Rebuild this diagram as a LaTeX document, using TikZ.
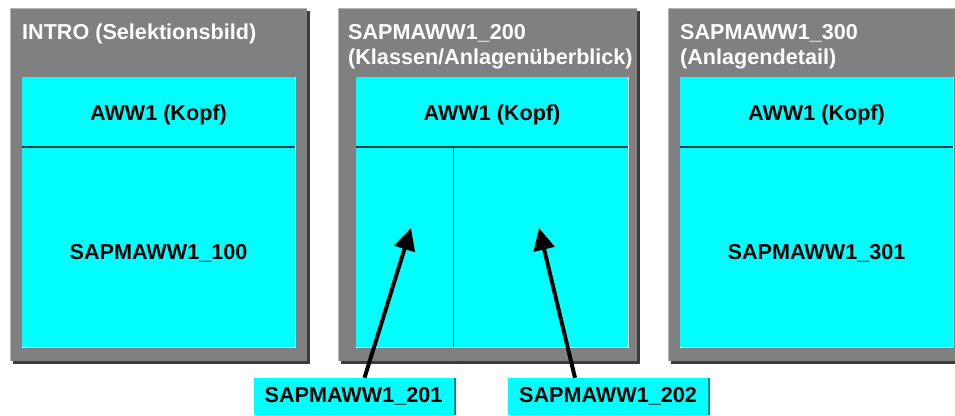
\documentclass[tikz,border=0pt]{standalone}
\usepackage{fontspec}
\setmainfont{Liberation Sans}
\usetikzlibrary{arrows.meta,shadows}

\definecolor{maskgrau}{HTML}{808080}
\definecolor{schatten}{HTML}{3C3C3C}
\definecolor{kante}{HTML}{B4B4B4}
\definecolor{feld}{HTML}{00FFFF}
\definecolor{feldlinie}{HTML}{004848}
\definecolor{feldschatten}{HTML}{008C8C}

\begin{document}
\begin{tikzpicture}[x=1pt,y=-1pt]
\tikzset{every node/.style={inner sep=0pt, font=\fontsize{21.6}{25}\selectfont\bfseries}}
\tikzset{titel/.style={text=white, anchor=base west, align=left}}
\tikzset{feldtext/.style={text=black, anchor=base}}
\tikzset{dynpro/.style={fill=feld, text=black, minimum width=200pt, minimum height=37pt,
  general shadow={fill=feldschatten, shadow xshift=2pt}}}
\tikzset{zeiger/.style={line width=4pt, -{Triangle[length=22pt,width=21pt]}}}
\useasboundingbox (0,0) rectangle (955,415);

% INTRO
\fill [schatten] (13,11) rectangle (310,364);
\fill [maskgrau] (10,8) rectangle (307,361);
\draw [kante] (10,361) |- (307,8);
\fill [feld] (22,77) rectangle (295,347);
\draw [white, line width=0.8pt] (295,77) |- (22,347);
\draw [feldlinie, line width=1.5pt] (22,147) -- (295,147);
\node [titel] (intro) at (22,39) {INTRO (Selektionsbild)};
\node [feldtext] (kopf1) at (158.5,120) {AWW1 (Kopf)};
\node [feldtext] (sub100) at (158.5,259) {SAPMAWW1\_100};

% SAPMAWW1_200
\fill [schatten] (341,11) rectangle (640,364);
\fill [maskgrau] (338,8) rectangle (637,361);
\draw [kante] (338,361) |- (637,8);
\fill [feld] (356,77) rectangle (628,347);
\draw [white, line width=0.8pt] (628,77) |- (356,347);
\draw [feldlinie, line width=1.5pt] (356,147) -- (628,147);
\draw [black, line width=1pt] (453,147) -- (453,347);
\node [titel] (bild200) at (348,64) {SAPMAWW1\_200\\(Klassen/Anlagenüberblick)};
\node [feldtext] (kopf2) at (492,120) {AWW1 (Kopf)};

% SAPMAWW1_300
\fill [schatten] (671,11) rectangle (970,364);
\fill [maskgrau] (668,8) rectangle (967,361);
\draw [kante] (668,361) |- (967,8);
\fill [feld] (680,77) rectangle (953,347);
\draw [white, line width=0.8pt] (953,77) |- (680,347);
\draw [feldlinie, line width=1.5pt] (680,147) -- (953,147);
\node [titel] (bild300) at (680,64) {SAPMAWW1\_300\\(Anlagendetail)};
\node [feldtext] (kopf3) at (816.5,120) {AWW1 (Kopf)};
\node [feldtext] (sub301) at (816.5,259) {SAPMAWW1\_301};

% Subscreens unten
\node [dynpro] (sub201) at (353.5,396.5) {SAPMAWW1\_201};
\node [dynpro] (sub202) at (608,396.5) {SAPMAWW1\_202};
\coordinate (ziel201) at (411,228);
\coordinate (ziel202) at (539,228);
\draw [zeiger] ([xshift=11pt]sub201.north) -- (ziel201);
\draw [zeiger] ([xshift=-33pt]sub202.north) -- (ziel202);
\end{tikzpicture}
\end{document}
